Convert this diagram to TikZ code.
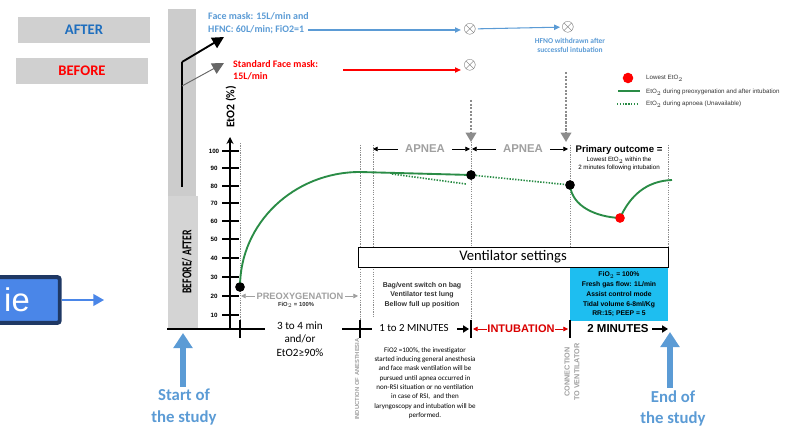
\documentclass[tikz,border=0pt]{standalone}
\usepackage{fontspec}
\setmainfont{Carlito}
\newfontfamily\arialf{Liberation Sans}
\usetikzlibrary{arrows.meta}
\definecolor{studyblue}{HTML}{5B9BD5}
\definecolor{afterblue}{HTML}{1E6EBE}
\definecolor{boxgray}{HTML}{D0D0D0}
\definecolor{curvegreen}{HTML}{2A8C46}
\definecolor{ventcyan}{HTML}{1EBEF0}
\definecolor{navyedge}{HTML}{1F3864}
\definecolor{iefill}{HTML}{4A86E8}
\definecolor{labelgray}{HTML}{A0A0A0}

\begin{document}
\begin{tikzpicture}[x=0.03cm,y=-0.03cm]
	\tikzstyle{topbox}=[fill=boxgray,minimum width=112pt,minimum height=22pt,font=\fontsize{12.5}{14}\selectfont\bfseries]
	\tikzstyle{bluetxt}=[text=studyblue,anchor=west,inner sep=0pt,font=\fontsize{8.5}{10}\selectfont\bfseries]
	\tikzstyle{redtxt}=[text=red,anchor=west,inner sep=0pt,font=\fontsize{8.5}{10}\selectfont\bfseries]
	\tikzstyle{oxnode}=[inner sep=0pt,text=black!70,font=\Large]
	\tikzstyle{bluearrow}=[studyblue,line width=0.9pt,-{Triangle[width=4.5pt,length=5pt]}]
	\tikzstyle{redarrow}=[red,line width=0.9pt,-{Triangle[width=4.5pt,length=5pt]}]
	\tikzstyle{vline}=[black!45,line width=0.5pt,dash pattern=on 1pt off 1pt]
	\tikzstyle{dropline}=[black!45,line width=1.6pt,dash pattern=on 2pt off 1pt,-{Triangle[width=9pt,length=8pt]}]
	\tikzstyle{tickmark}=[line width=1.3pt]
	\tikzstyle{timeline}=[line width=1.6pt]
	\tikzstyle{axnum}=[inner sep=0pt,font=\arialf\bfseries\fontsize{5.3}{6}\selectfont]
	\tikzstyle{graylbl}=[inner sep=1pt,text=labelgray,font=\arialf\bfseries\fontsize{9.7}{11}\selectfont]
	\tikzstyle{smallarr}=[line width=0.6pt,-{Triangle[width=4pt,length=4pt]}]
	\tikzstyle{tiny}=[inner sep=0pt,align=center,font=\arialf\fontsize{5.3}{7}\selectfont]
	\tikzstyle{tinybold}=[inner sep=0pt,align=center,font=\arialf\bfseries\fontsize{5.8}{8.3}\selectfont]
	\tikzstyle{rotgray}=[rotate=90,inner sep=0pt,align=center,text=labelgray,font=\arialf\bfseries\fontsize{6.2}{8.5}\selectfont]
	\tikzstyle{blackdot}=[circle,fill=black,inner sep=0pt,minimum size=8pt]
	\tikzstyle{reddot}=[circle,fill=red,inner sep=0pt,minimum size=8pt]
	\tikzstyle{greencurve}=[curvegreen,line width=1.6pt]
	\tikzstyle{greendot}=[curvegreen,line width=1.4pt,dash pattern=on 1.2pt off 1.2pt]
	\tikzstyle{timetxt}=[inner sep=0pt,align=center,font=\fontsize{9.5}{11.5}\selectfont]
	\tikzstyle{studytxt}=[inner sep=0pt,align=center,text=studyblue,font=\fontsize{14.3}{18}\selectfont\bfseries]
	\tikzstyle{studyarrow}=[studyblue,line width=5.5pt,-{Triangle[width=16pt,length=13pt]}]

	\useasboundingbox (0,0) rectangle (789,433);
	\clip (0,0) rectangle (789,433);

	% left labels
	\node[topbox,text=afterblue] (after) at (84,30) {AFTER};
	\node[topbox,text=red] (before) at (82,71) {BEFORE};

	\node[draw=navyedge,line width=3.4pt,fill=iefill,rounded corners=2pt,minimum width=102pt,minimum height=39pt] (iebox) at (0,300) {};
	\node[anchor=base east,inner sep=0pt,text=white,font=\arialf\fontsize{28}{30}\selectfont] (ietxt) at (30,312) {ie};
	\coordinate (ietip) at (104,300);
	\draw[iefill,line width=1.3pt,-{Triangle[width=10pt,length=9pt]}] (iebox) -- (ietip);

	% band
	\fill[black!20] (168,9) rectangle (196,196);
	\fill[black!17] (168,196) rectangle (198,329);
	\node[rotate=90,inner sep=0pt,font=\fontsize{11.5}{12}\selectfont\bfseries] (ba) at (187,262) {\scalebox{0.72}[1]{BEFORE/ AFTER}};
	\coordinate (bandtop) at (182,62);
	\coordinate (bandmid) at (182,86);
	\coordinate (bandbot) at (182,187);
	\coordinate (aftertip) at (224,37);
	\coordinate (beforetip) at (224,63);
	\draw[line width=1.6pt] (bandbot) -- (bandtop);
	\draw[line width=1.6pt,-{Triangle[width=10pt,length=10pt]}] (bandtop) -- (aftertip);
	\draw[black!60,line width=0.8pt,-{Triangle[width=10pt,length=10pt]}] (bandmid) -- (beforetip);

	% oxygen lines
	\node[bluetxt] (fm1) at (208,16) {Face mask: 15L/min and};
	\node[bluetxt] (fm2) at (208,30) {HFNC: 60L/min; FiO2=1};
	\node[oxnode] (ox1) at (470,29) {$\otimes$};
	\node[oxnode] (ox2) at (568,27) {$\otimes$};
	\node[oxnode] (ox3) at (470,65) {$\otimes$};
	\draw[bluearrow,shorten <=3pt,shorten >=2pt] (fm2) -- (fm2 -| ox1.west);
	\draw[bluearrow,shorten <=1pt,shorten >=1pt] (ox1) -- (ox2);
	\node[inner sep=0pt,align=center,text=studyblue,font=\fontsize{6.4}{7.6}\selectfont\bfseries] (hfno) at (570,45) {HFNO withdrawn after\\successful intubation};

	\node[redtxt] (sfm1) at (233,64) {Standard Face mask:};
	\node[redtxt] (sfm2) at (233,76) {15L/min};
	\coordinate (redstart) at (343,70);
	\draw[redarrow,shorten >=2pt] (redstart) -- (redstart -| ox3.west);

	% legend
	\node[reddot,minimum size=9pt] (lgdot) at (628,78) {};
	\node[tiny,anchor=west,text=black!80] (lg1) at (646,78) {Lowest EtO$_2$};
	\coordinate (lgA) at (618,91);
	\coordinate (lgB) at (640,91);
	\draw[greencurve] (lgA) -- (lgB);
	\node[tiny,anchor=west,text=black!80] (lg2) at (646,92) {EtO$_2$ during preoxygenation and after intubation};
	\coordinate (lgC) at (617,104);
	\coordinate (lgD) at (639,104);
	\draw[greendot] (lgC) -- (lgD);
	\node[tiny,anchor=west,text=black!80] (lg3) at (646,104) {EtO$_2$ during apnoea (Unavailable)};

	% axis
	\node[rotate=90,inner sep=0pt,font=\fontsize{10}{12}\selectfont\bfseries] (yl) at (231,107) {EtO2 (\%)};
	\coordinate (yorig) at (230,329);
	\coordinate (ytop) at (230,137);
	\draw[line width=1.4pt,-{Stealth[width=6pt,length=6pt]}] (yorig) -- (ytop);
	\foreach \v/\y in {100/151,90/168,80/186,70/203,60/221,50/239,40/258,30/277,20/296,10/315}{
		\draw[tickmark] (222,\y) -- (239,\y);
		\node[axnum] (n\v) at (214,\y) {\v};
	}

	% phase lines
	\draw[vline] (240,143) -- (240,329);
	\draw[vline] (360,145) -- (360,329);
	\draw[vline] (373,145) -- (373,318);
	\draw[vline] (471,142) -- (471,320);
	\draw[vline] (570,145) -- (570,320);
	\draw[vline] (668,145) -- (668,268);

	\coordinate (drop1s) at (471,100);
	\coordinate (drop1e) at (471,142);
	\coordinate (drop2s) at (566,72);
	\coordinate (drop2e) at (566,142);
	\draw[dropline] (drop1s) -- (drop1e);
	\draw[dropline] (drop2s) -- (drop2e);

	\node[graylbl] (apnea1) at (425,149) {APNEA};
	\coordinate (ap1L) at (373,149);
	\coordinate (ap1R) at (470,149);
	\draw[smallarr,shorten <=5pt] (apnea1) -- (ap1L);
	\draw[smallarr,shorten <=5pt] (apnea1) -- (ap1R);
	\node[graylbl] (apnea2) at (523,149) {APNEA};
	\coordinate (ap2L) at (472,149);
	\coordinate (ap2R) at (568,149);
	\draw[smallarr,shorten <=5pt] (apnea2) -- (ap2L);
	\draw[smallarr,shorten <=5pt] (apnea2) -- (ap2R);

	\node[inner sep=0pt,font=\arialf\bfseries\fontsize{8.2}{10}\selectfont] (prim) at (619,150) {Primary outcome =};
	\node[tiny] (prim2) at (619,164) {Lowest EtO$_2$ within the\\2 minutes following intubation};

	% EtO2 curve
	\node[blackdot] (p0) at (240,287) {};
	\node[blackdot] (p1) at (471,175) {};
	\node[blackdot] (p2) at (570,185) {};
	\node[reddot] (low) at (620,218) {};
	\draw[greendot] (392,174) -- (466,184);
	\draw[greendot] (p1) -- (p2);
	\draw[greencurve] (p0.center) .. controls (240,223) and (294,172) .. (360,172) -- (p1.center);
	\draw[greencurve] (p2.center) .. controls (572,207) and (597,217) .. (low.center) .. controls (630,196) and (646,181) .. (672,180);
	\node[blackdot] at (p0) {};
	\node[blackdot] at (p1) {};
	\node[blackdot] at (p2) {};
	\node[reddot] at (low) {};

	\node[graylbl,font=\arialf\bfseries\fontsize{7.9}{9}\selectfont] (preox) at (300,296) {PREOXYGENATION};
	\coordinate (preL) at (241,296);
	\coordinate (preR) at (358,296);
	\draw[smallarr,labelgray] (preox) -- (preL);
	\draw[smallarr,labelgray] (preox) -- (preR);
	\node[inner sep=0pt,text=black!80,font=\arialf\bfseries\fontsize{5}{6}\selectfont] (prefio) at (296,305) {FiO$_2$ = 100\%};

	% settings
	\node[draw,line width=0.7pt,fill=white,minimum width=264.6pt,minimum height=17pt,inner sep=0pt,font=\fontsize{12.5}{14}\selectfont] (vent) at (513,257) {Ventilator settings};
	\node[fill=ventcyan,minimum width=83.7pt,minimum height=45pt,tinybold] (cyanbox) at (619,294.5) {FiO$_2$ = 100\%\\Fresh gas flow: 1L/min\\Assist control mode\\Tidal volume 6-8ml/Kg\\RR:15; PEEP = 5};
	\node[tinybold,text=black!80,font=\arialf\bfseries\fontsize{6}{8.1}\selectfont] (bag) at (422,295) {Bag/vent switch on bag\\Ventilator test lung\\Bellow full up position};

	% timeline
	\draw[timeline] (167,329) -- (265,329);
	\draw[timeline] (342,329) -- (372,329);
	\draw[tickmark] (240,320) -- (240,338);
	\draw[tickmark] (360,320) -- (360,338);
	\draw[tickmark] (471,320) -- (471,338);
	\draw[tickmark] (570,320) -- (570,338);

	\node[timetxt] (t34) at (300,339) {3 to 4 min\\and/or\\EtO2≥90\%};
	\node[timetxt,font=\fontsize{9.3}{11}\selectfont] (t12) at (414,328) {1 to 2 MINUTES};
	\coordinate (t12start) at (457,329);
	\coordinate (t12end) at (469,329);
	\draw[line width=1.8pt,-{Triangle[width=6pt,length=5pt]}] (t12start) -- (t12end);
	\node[inner sep=0pt,text=red!85!black,font=\arialf\bfseries\fontsize{9.4}{11}\selectfont] (intub) at (521,329) {INTUBATION};
	\coordinate (intL) at (473,329);
	\coordinate (intR) at (568,329);
	\draw[smallarr,red!85!black] (intub) -- (intL);
	\draw[smallarr,red!85!black] (intub) -- (intR);
	\node[inner sep=0pt,font=\arialf\bfseries\fontsize{9.8}{11}\selectfont] (twomin) at (618,329) {2 MINUTES};
	\coordinate (twoend) at (668,329);
	\draw[line width=1.4pt,-{Triangle[width=6pt,length=5pt]},shorten <=3pt] (twomin) -- (twoend);

	\node[inner sep=0pt,align=center,font=\fontsize{6}{7.9}\selectfont] (fio2) at (425,383) {FiO2 =100\%, the investigator\\started inducing general anesthesia\\and face mask ventilation will be\\pursued until apnea occurred in\\non-RSI situation or no ventilation\\in case of RSI,\ \ and then\\laryngoscopy and intubation will be\\performed.};

	\node[rotgray,anchor=east,font=\arialf\bfseries\fontsize{5}{6}\selectfont] (induc) at (357,338) {INDUCTION OF ANESTHESIA};
	\node[rotgray] (conn) at (572,372) {CONNECTION\\TO VENTILATOR};

	% start and end
	\node[studytxt] (start) at (184,407) {Start of\\the study};
	\coordinate (starttip) at (183,333);
	\draw[studyarrow,shorten <=2pt] (start.north -| starttip) -- (starttip);
	\node[studytxt] (endst) at (673,408) {End of\\the study};
	\coordinate (endtip) at (670,332);
	\draw[studyarrow,shorten <=2pt] (endst.north -| endtip) -- (endtip);
\end{tikzpicture}
\end{document}
